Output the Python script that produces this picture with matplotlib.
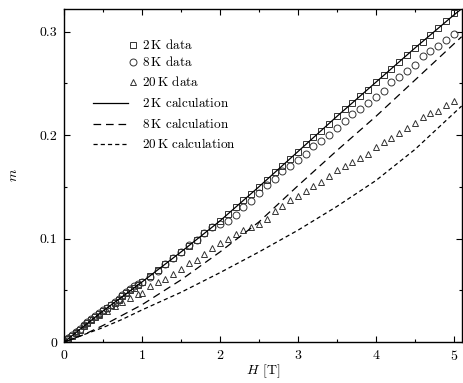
import matplotlib
matplotlib.use('Agg')
import matplotlib.pyplot as plt
from matplotlib.ticker import MultipleLocator, FixedLocator, FixedFormatter

plt.rcParams['font.family'] = 'cmr10'
plt.rcParams['mathtext.fontset'] = 'cm'
plt.rcParams['axes.formatter.use_mathtext'] = True
plt.rcParams['lines.scale_dashes'] = False

# measured field values (T)
H_lo = [0.05, 0.1, 0.15, 0.2, 0.25, 0.3, 0.35, 0.4, 0.45, 0.5,
        0.55, 0.6, 0.65, 0.7, 0.75, 0.8, 0.85, 0.9, 0.95]
H_hi = [1.0, 1.1, 1.2, 1.3, 1.4, 1.5, 1.6, 1.7, 1.8, 1.9,
        2.0, 2.1, 2.2, 2.3, 2.4, 2.5, 2.6, 2.7, 2.8, 2.9,
        3.0, 3.1, 3.2, 3.3, 3.4, 3.5, 3.6, 3.7, 3.8, 3.9,
        4.0, 4.1, 4.2, 4.3, 4.4, 4.5, 4.6, 4.7, 4.8, 4.9, 5.0]

# 2 K data
m2_lo = [0.003, 0.006, 0.009, 0.012, 0.015, 0.018, 0.021, 0.024, 0.027, 0.030,
         0.033, 0.036, 0.038, 0.041, 0.044, 0.047, 0.050, 0.052, 0.055]
m2_hi = [0.058, 0.064, 0.070, 0.075, 0.081, 0.087, 0.093, 0.099, 0.105, 0.111,
         0.117, 0.124, 0.130, 0.137, 0.143, 0.150, 0.157, 0.164, 0.170, 0.177,
         0.184, 0.191, 0.198, 0.204, 0.211, 0.218, 0.225, 0.231, 0.238, 0.244,
         0.251, 0.258, 0.264, 0.271, 0.277, 0.284, 0.290, 0.297, 0.303, 0.310, 0.318]

# 8 K data
m8_lo = [0.004, 0.007, 0.010, 0.013, 0.016, 0.019, 0.022, 0.025, 0.028, 0.031,
         0.033, 0.036, 0.039, 0.042, 0.045, 0.048, 0.051, 0.054, 0.056]
m8_hi = [0.058, 0.063, 0.069, 0.075, 0.081, 0.087, 0.094, 0.099, 0.105, 0.111,
         0.114, 0.117, 0.123, 0.130, 0.136, 0.144, 0.152, 0.158, 0.165, 0.170,
         0.176, 0.182, 0.189, 0.194, 0.200, 0.207, 0.214, 0.220, 0.225, 0.231,
         0.237, 0.243, 0.251, 0.256, 0.262, 0.268, 0.276, 0.281, 0.286, 0.292, 0.298]

# 20 K data (two runs)
H20_lo = [0.05, 0.15, 0.25, 0.35, 0.45, 0.55, 0.65, 0.75, 0.85, 0.95, 1.0]
m20_lo = [0.005, 0.011, 0.017, 0.022, 0.026, 0.030, 0.035, 0.039, 0.043, 0.046, 0.047]
H20_hi = [1.1, 1.2, 1.3, 1.4, 1.5, 1.6, 1.7, 1.8, 1.9,
          2.0, 2.1, 2.2, 2.3, 2.4, 2.5, 2.6, 2.7, 2.8, 2.9,
          3.0, 3.1, 3.2, 3.3, 3.4, 3.5, 3.6, 3.7, 3.8, 3.9,
          4.0, 4.1, 4.2, 4.3, 4.4, 4.5, 4.6, 4.7, 4.8, 4.9, 5.0]
m20_hi = [0.054, 0.058, 0.061, 0.066, 0.071, 0.076, 0.079, 0.085, 0.091,
          0.096, 0.100, 0.104, 0.108, 0.111, 0.114, 0.119, 0.127, 0.131, 0.137,
          0.141, 0.146, 0.151, 0.155, 0.160, 0.166, 0.170, 0.174, 0.178, 0.182,
          0.188, 0.193, 0.197, 0.202, 0.207, 0.212, 0.217, 0.221, 0.223, 0.229, 0.233]

# calculations
H_calc = [0, 0.25, 0.5, 0.75, 1.0, 1.5, 2.0, 2.5, 3.0, 3.5, 4.0, 4.5, 5.0, 5.1]
calc_2K = [0, 0.015, 0.030, 0.044, 0.058, 0.087, 0.117, 0.150, 0.184, 0.218, 0.251, 0.284, 0.316, 0.322]
calc_8K = [0, 0.007, 0.016, 0.026, 0.036, 0.060, 0.087, 0.116, 0.151, 0.185, 0.218, 0.253, 0.288, 0.295]
calc_20K = [0, 0.007, 0.014, 0.022, 0.031, 0.048, 0.067, 0.087, 0.108, 0.131, 0.156, 0.186, 0.221, 0.228]

mk = dict(linestyle='none', mfc='none', mec='#333333', ms=5, mew=0.7)
dash_long = (5.5, 3.5)
dash_short = (3, 2.2)

fig = plt.figure(figsize=(4.64, 3.83), dpi=100)
ax = fig.add_axes([0.138, 0.107, 0.858, 0.870])

ax.plot(H_lo + H_hi, m2_lo + m2_hi, marker='s', **mk)
ax.plot(H_lo + H_hi, m8_lo + m8_hi, marker='o', **mk)
ax.plot(H20_lo + H20_hi, m20_lo + m20_hi, marker='^', **mk)
ax.plot(H_calc, calc_2K, color='black', lw=0.9)
ax.plot(H_calc, calc_8K, color='black', lw=0.9, dashes=dash_long)
ax.plot(H_calc, calc_20K, color='black', lw=0.9, dashes=dash_short)

ax.set_xlim(0, 5.107)
ax.set_ylim(0, 0.322)
ax.xaxis.set_major_locator(MultipleLocator(1))
ax.xaxis.set_minor_locator(MultipleLocator(0.5))
ax.yaxis.set_major_locator(FixedLocator([0, 0.1, 0.2, 0.3]))
ax.yaxis.set_major_formatter(FixedFormatter(['0', '0.1', '0.2', '0.3']))
ax.yaxis.set_minor_locator(MultipleLocator(0.05))
ax.tick_params(which='both', direction='in', top=True, right=True, labelsize=10, width=0.8)
ax.tick_params(which='major', length=4, pad=5)
ax.tick_params(which='minor', length=2)
for s in ax.spines.values():
    s.set_linewidth(1.0)

ax.set_xlabel(r'$H$ [T]', fontsize=10, labelpad=0)
ax.set_ylabel(r'$m$', fontsize=10, labelpad=14)

# legend, gnuplot style (markers to the right of the key area)
labels = [r'2$\,$K data', r'8$\,$K data', r'20$\,$K data',
          r'2$\,$K calculation', r'8$\,$K calculation', r'20$\,$K calculation']
rows = [0.892, 0.841, 0.781, 0.718, 0.655, 0.595]
tr = ax.transAxes
for y, m in zip(rows[:3], ['s', 'o', '^']):
    ax.plot([0.173], [y], marker=m, transform=tr, **mk)
ax.plot([0.073, 0.161], [rows[3]] * 2, color='black', lw=0.9, transform=tr)
ax.plot([0.073, 0.161], [rows[4]] * 2, color='black', lw=0.9, dashes=dash_long, transform=tr)
ax.plot([0.073, 0.161], [rows[5]] * 2, color='black', lw=0.9, dashes=dash_short, transform=tr)
for y, t in zip(rows, labels):
    ax.text(0.196, y, t, transform=tr, fontsize=9.5, va='center', ha='left')

fig.savefig('out.png', dpi=100)
